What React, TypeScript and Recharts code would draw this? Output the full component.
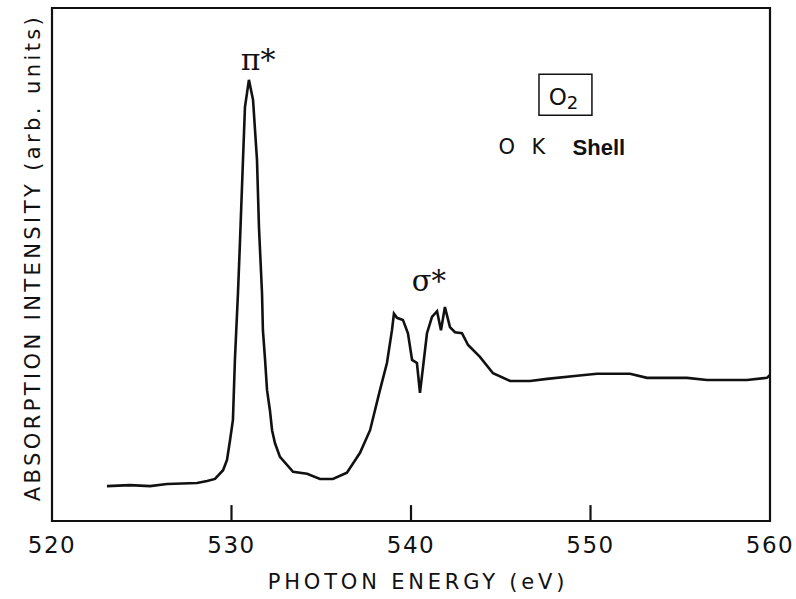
import React from 'react';
import {
  LineChart,
  Line,
  XAxis,
  YAxis,
  ReferenceArea,
  ReferenceLine,
  ReferenceDot,
  Label,
} from 'recharts';

// photon energy (eV) and absorption intensity (arb. units, 0-100 of frame height)
const energy = [
  523.06, 524.35, 525.46, 526.41, 528.08, 528.64, 529.08, 529.53, 529.75, 529.92,
  530.08, 530.19, 530.36, 530.47, 530.64, 530.75, 530.97, 531.2, 531.42, 531.53,
  531.7, 531.75, 531.87, 531.98, 532.14, 532.26, 532.42, 532.7, 533.43, 534.21,
  534.93, 535.65, 536.43, 537.16, 537.72, 538.27, 538.66, 538.94, 539.05, 539.22,
  539.55, 539.83, 540.06, 540.33, 540.5, 540.67, 540.89, 541.17, 541.45, 541.67,
  541.89, 542.17, 542.45, 542.84, 543.18, 543.84, 544.57, 545.52, 546.63, 547.58,
  549.25, 550.36, 552.2, 553.15, 555.38, 556.49, 558.72, 559.83, 560.0,
];
const intensity = [
  6.8, 7.0, 6.8, 7.2, 7.4, 7.8, 8.2, 9.9, 11.9, 15.8,
  19.7, 31.4, 44.4, 54.2, 70.4, 80.7, 86.0, 82.1, 70.4, 57.3,
  44.4, 37.2, 31.4, 25.5, 21.6, 17.7, 15.2, 12.5, 9.6, 9.2,
  8.2, 8.2, 9.4, 13.3, 17.7, 25.5, 30.8, 37.2, 40.4, 39.6,
  39.2, 36.6, 31.4, 30.8, 25.0, 30.0, 36.6, 39.8, 40.9, 37.2,
  41.7, 37.8, 36.8, 36.6, 34.3, 32.0, 28.8, 27.3, 27.3, 27.7,
  28.3, 28.7, 28.7, 27.9, 27.9, 27.5, 27.5, 27.9, 28.5,
];
const xTicks = [520, 530, 540, 550, 560];
const innerTicks = [530, 540, 550];

const data = energy.map((e, i) => ({ energy: e, value: intensity[i] }));

const INK = '#111';
const SANS = '"DejaVu Sans", sans-serif';
const SERIF = '"DejaVu Serif", "Liberation Serif", serif';

function ShellLabel(props: any) {
  const vb = props.viewBox || {};
  const cx = vb.x + (vb.width || 0) / 2;
  const cy = vb.y + (vb.height || 0) / 2;
  return (
    <text x={cx} y={cy} dominantBaseline="central" fill={INK} fontFamily={SANS} fontSize={21}>
      <tspan x={cx - 65}>O</tspan>
      <tspan x={cx - 32}>K</tspan>
      <tspan x={cx + 9} fontWeight="bold" fontSize={22} fontFamily='"Liberation Sans Narrow", "Liberation Sans", sans-serif'>Shell</tspan>
    </text>
  );
}

function MoleculeLabel(props: any) {
  const vb = props.viewBox || {};
  const cx = vb.x + (vb.width || 0) / 2;
  const cy = vb.y + (vb.height || 0) / 2;
  return (
    <text x={cx - 2} y={cy + 2} textAnchor="middle" dominantBaseline="central" fill={INK} fontFamily={SANS} fontSize={23}>
      O<tspan fontSize={18} dy={5}>2</tspan>
    </text>
  );
}

function YTitle(props: any) {
  const vb = props.viewBox || {};
  const x = vb.x - 19;
  const y = vb.y + vb.height / 2 - 7;
  return (
    <text
      x={x}
      y={y}
      transform={`rotate(-90 ${x} ${y})`}
      textAnchor="middle"
      dominantBaseline="central"
      fill={INK}
      fontFamily={SANS}
      fontSize={21}
      letterSpacing={3.4}
    >
      ABSORPTION INTENSITY (arb. units)
    </text>
  );
}

export default function App() {
  return (
    <div style={{ position: 'absolute', left: 0, top: 0, width: 796, height: 599, background: '#fff' }}>
      <LineChart width={796} height={599} data={data} margin={{ top: 8, right: 26, bottom: 38, left: 52 }}>
        <XAxis
          dataKey="energy"
          type="number"
          domain={[520, 560]}
          ticks={xTicks}
          allowDataOverflow
          axisLine={false}
          tickLine={false}
          tickMargin={10}
          height={40}
          tick={{ fill: INK, fontSize: 23, fontFamily: SANS, letterSpacing: 1.5 }}
        >
          <Label
            value="PHOTON ENERGY (eV)"
            position="bottom"
            offset={13}
            dx={7}
            fill={INK}
            fontSize={21}
            fontFamily={SANS}
            letterSpacing={3.8}
          />
        </XAxis>
        <YAxis type="number" domain={[0, 100]} hide />

        <ReferenceArea
          x1={520}
          x2={560}
          y1={0}
          y2={100}
          fill="none"
          stroke={INK}
          strokeWidth={2.2}
          label={<YTitle />}
        />
        {innerTicks.map((t) => (
          <ReferenceLine
            key={`tick-${t}`}
            segment={[{ x: t, y: 0 }, { x: t, y: 3.1 }]}
            stroke={INK}
            strokeWidth={2.2}
          />
        ))}

        <ReferenceArea
          x1={547.13}
          x2={550.08}
          y1={79.1}
          y2={87.1}
          fill="none"
          stroke={INK}
          strokeWidth={1.5}
          label={<MoleculeLabel />}
        />
        <ReferenceDot x={548.5} y={72.9} r={0} stroke="none" label={<ShellLabel />} />
        <ReferenceDot x={531.48} y={89.9} r={0} stroke="none" label={{ value: 'π*', position: 'center', fill: INK, fontSize: 30, fontFamily: SERIF }} />
        <ReferenceDot x={541.0} y={46.8} r={0} stroke="none" label={{ value: 'σ*', position: 'center', fill: INK, fontSize: 29, fontFamily: SERIF }} />

        <Line
          type="linear"
          dataKey="value"
          stroke={INK}
          strokeWidth={2.6}
          dot={false}
          activeDot={false}
          isAnimationActive={false}
        />
      </LineChart>
    </div>
  );
}
